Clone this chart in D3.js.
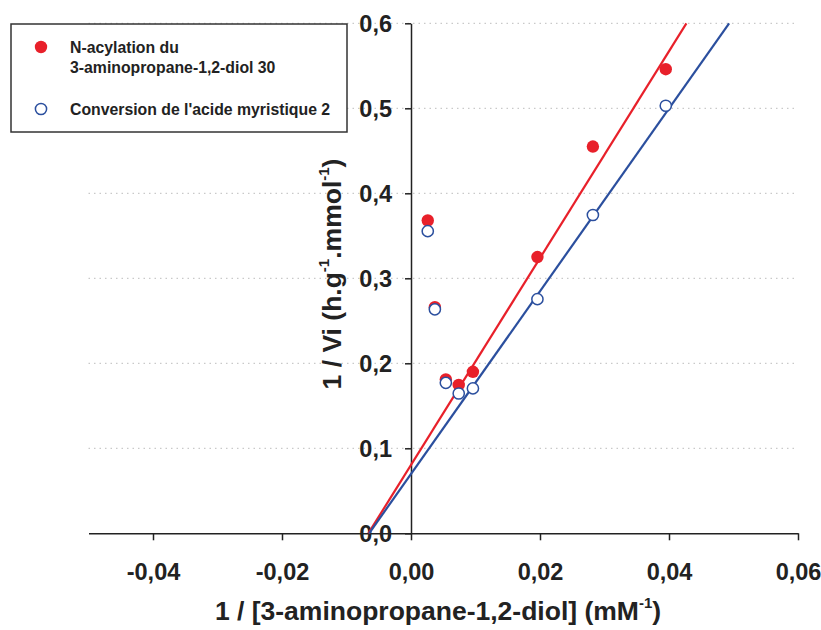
<!DOCTYPE html>
<html><head><meta charset="utf-8">
<script src="https://cdn.jsdelivr.net/npm/d3@7"></script>
<style>body{margin:0;background:#fff}svg{display:block}text{font-family:"Liberation Sans",Arial,sans-serif;font-weight:bold;fill:#222}</style>
</head><body><svg id="c" width="821" height="630"></svg>
<script>
const xValues = [0.0026, 0.0037, 0.0054, 0.0074, 0.0096, 0.0196, 0.0282, 0.0395];
const redValues = [0.368, 0.266, 0.181, 0.1745, 0.190, 0.325, 0.455, 0.546];
const blueValues = [0.3555, 0.2635, 0.177, 0.1645, 0.1705, 0.2755, 0.3745, 0.503];
const seriesNames = ["N-acylation du|3-aminopropane-1,2-diol 30", "Conversion de l'acide myristique 2"];
const fitSlopes = [12.17, 10.75];
const fitIntercepts = [0.0804, 0.0698];
const xTicks = [-0.04, -0.02, 0.00, 0.02, 0.04, 0.06];
const yTicks = [0.0, 0.1, 0.2, 0.3, 0.4, 0.5, 0.6];
const colors = ["#e8202a", "#2b4f9e"];

const svg = d3.select("#c");
const x = d3.scaleLinear().domain([-0.05, 0.06]).range([88.5, 798]);
const y = d3.scaleLinear().domain([0, 0.6]).range([533.3, 23.3]);
const fmtX = v => d3.format(".2f")(v).replace(".", ",").replace("−","-");
const fmtY = v => d3.format(".1f")(v).replace(".", ",");

// grid
svg.append("g").selectAll("line").data(yTicks.filter(v => v > 0)).join("line")
  .attr("x1", x(-0.05)).attr("x2", x(0.06))
  .attr("y1", d => y(d)).attr("y2", d => y(d))
  .attr("stroke", "#bcbcbc").attr("stroke-width", 1).attr("stroke-dasharray", "1.5,4");

// x axis
const xAxis = svg.append("g").attr("transform", `translate(0,${y(0)})`)
  .call(d3.axisBottom(x).tickValues(xTicks).tickFormat(fmtX).tickSize(7).tickSizeOuter(0));
xAxis.select(".domain").attr("stroke", "#222").attr("stroke-width", 1.5);
xAxis.selectAll(".tick line").attr("stroke", "#222").attr("stroke-width", 1.5);
xAxis.selectAll(".tick text").attr("y", 47).attr("dy", 0).attr("font-size", 23.5).attr("fill", "#222").attr("font-family", null);

// y axis
const yAxis = svg.append("g").attr("transform", `translate(${x(0)},0)`)
  .call(d3.axisLeft(y).tickValues(yTicks).tickFormat(fmtY).tickSize(6).tickSizeOuter(0));
yAxis.select(".domain").attr("stroke", "#222").attr("stroke-width", 1.5);
yAxis.selectAll(".tick line").attr("stroke", "#222").attr("stroke-width", 1.5);
yAxis.selectAll(".tick text").attr("x", -19).attr("dy", "0.36em").attr("font-size", 23.5).attr("fill", "#222").attr("font-family", null);

// fit lines
const fits = fitSlopes.map((s, i) => {
  const b = fitIntercepts[i];
  return [[-b / s, 0], [(0.6 - b) / s, 0.6]];
});
svg.append("g").selectAll("path").data(fits).join("path")
  .attr("d", d => d3.line().x(p => x(p[0])).y(p => y(p[1]))(d))
  .attr("stroke", (d, i) => colors[i]).attr("stroke-width", 2.2).attr("fill", "none");

// points
svg.append("g").selectAll("circle").data(xValues.map((v, i) => [v, redValues[i]])).join("circle")
  .attr("cx", d => x(d[0])).attr("cy", d => y(d[1])).attr("r", 6.2)
  .attr("fill", colors[0]);
svg.append("g").selectAll("circle").data(xValues.map((v, i) => [v, blueValues[i]])).join("circle")
  .attr("cx", d => x(d[0])).attr("cy", d => y(d[1])).attr("r", 5.6)
  .attr("fill", "#fff").attr("stroke", colors[1]).attr("stroke-width", 1.5);

// axis titles
const xt = svg.append("text").attr("x", 438).attr("y", 620).attr("text-anchor", "middle").attr("font-size", 26.5);
xt.append("tspan").text("1 / [3-aminopropane-1,2-diol] (mM");
xt.append("tspan").attr("font-size", 15).attr("dy", -12).text("-1");
xt.append("tspan").attr("dy", 12).text(")");

const yt = svg.append("text").attr("transform", "translate(341,274) rotate(-90)").attr("text-anchor", "middle").attr("font-size", 26.5);
yt.append("tspan").text("1 / Vi (h.g");
yt.append("tspan").attr("font-size", 15).attr("dy", -12).text("-1");
yt.append("tspan").attr("dy", 12).text(".mmol");
yt.append("tspan").attr("font-size", 15).attr("dy", -12).text("-1");
yt.append("tspan").attr("dy", 12).text(")");

// legend
const lg = svg.append("g");
lg.append("rect").attr("x", 11).attr("y", 24).attr("width", 336).attr("height", 108)
  .attr("fill", "#fff").attr("stroke", "#333").attr("stroke-width", 1.5);
lg.append("circle").attr("cx", 41).attr("cy", 47).attr("r", 6.2).attr("fill", colors[0]);
const l1 = seriesNames[0].split("|");
lg.append("text").attr("x", 70).attr("y", 53).attr("font-size", 15.8).text(l1[0]);
lg.append("text").attr("x", 70).attr("y", 73).attr("font-size", 15.8).text(l1[1]);
lg.append("circle").attr("cx", 41).attr("cy", 109).attr("r", 5.6).attr("fill", "#fff").attr("stroke", colors[1]).attr("stroke-width", 1.5);
lg.append("text").attr("x", 70).attr("y", 114.5).attr("font-size", 15.8).text(seriesNames[1]);
</script></body></html>
